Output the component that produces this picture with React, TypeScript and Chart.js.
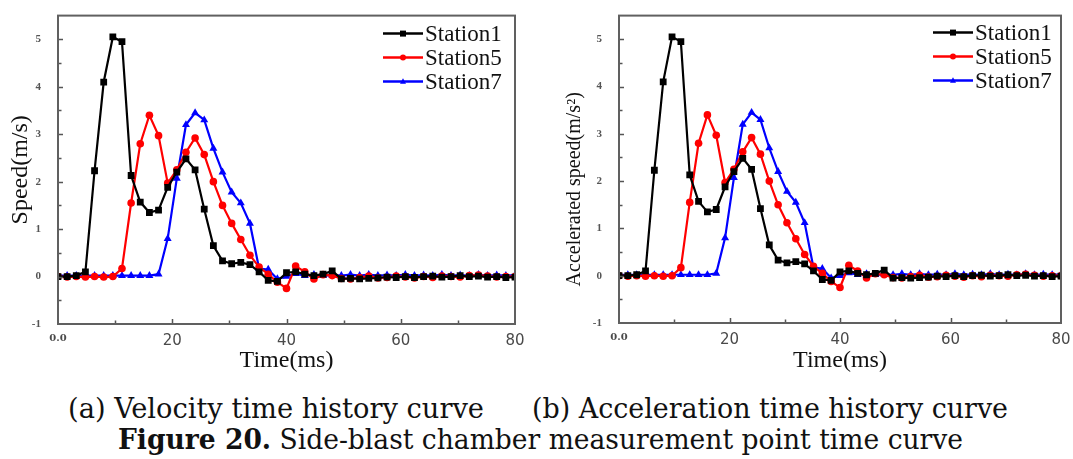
import React, { useEffect, useRef } from "react";
import { Chart, registerables } from "chart.js";

Chart.register(...registerables);

// ---------- data ----------
const TIME_MS = [
  0, 1.6, 3.2, 4.8, 6.4, 8, 9.6, 11.2, 12.8, 14.4, 16, 17.6, 19.2, 20.8, 22.4, 24, 25.6, 27.2, 28.8, 30.4,
  32, 33.6, 35.2, 36.8, 38.4, 40, 41.6, 43.2, 44.8, 46.4, 48, 49.6, 51.2, 52.8, 54.4, 56, 57.6, 59.2, 60.8,
  62.4, 64, 65.6, 67.2, 68.8, 70.4, 72, 73.6, 75.2, 76.8, 78.4, 80,
];

const STATION1 = [
  0.0, 0.0, 0.02, 0.1, 2.23, 4.1, 5.05, 4.95, 2.13, 1.57, 1.35, 1.4, 1.88, 2.2, 2.48, 2.25, 1.42, 0.65, 0.33, 0.27,
  0.3, 0.25, 0.1, -0.08, -0.1, 0.08, 0.1, 0.05, 0.02, 0.05, 0.12, -0.05, -0.04, -0.05, -0.04, -0.03, -0.01, -0.02,
  0.0, -0.02, 0.0, 0.01, -0.01, 0.0, 0.02, 0.0, 0.01, -0.01, 0.0, -0.02, -0.01,
];

const STATION5 = [
  0.0, -0.01, 0.0, -0.01, 0.0, -0.01, 0.0, 0.17, 1.55, 2.8, 3.4, 2.97, 1.97, 2.25, 2.62, 2.92, 2.57, 2.0, 1.5, 1.12,
  0.78, 0.45, 0.2, 0.05, -0.12, -0.25, 0.22, 0.1, -0.05, 0.04, 0.02, -0.04, -0.05, -0.02, 0.01, -0.03, -0.02, 0.01,
  -0.01, -0.03, 0.0, -0.02, 0.01, 0.0, -0.01, 0.02, 0.03, 0.01, -0.01, 0.0, 0.0,
];

const STATION7 = [
  0.02, 0.02, 0.02, 0.02, 0.02, 0.02, 0.02, 0.02, 0.02, 0.02, 0.02, 0.05, 0.8, 2.07, 3.2, 3.45, 3.3, 2.7, 2.2, 1.78,
  1.55, 1.12, 0.17, 0.15, -0.05, 0.0, 0.06, 0.02, 0.04, 0.02, 0.03, 0.02, 0.04, 0.02, 0.04, 0.02, 0.03, 0.02, 0.04,
  0.02, 0.03, 0.02, 0.04, 0.02, 0.03, 0.02, 0.04, 0.02, 0.03, 0.02, 0.03,
];

const SERIES_NAMES = ["Station1", "Station5", "Station7"];
const SERIES_COLORS = ["#000000", "#ff0000", "#0000ff"];
const SERIES_MARKERS = ["rect", "circle", "triangle"];
const SERIES_RADII = [4.8, 3.8, 4.6];

const X_MIN = 0;
const X_MAX = 80;
const Y_MIN = -1;
const Y_MAX = 5.5;

const SERIF = "'Liberation Serif', 'Times New Roman', Times, serif";

// ---------- plugins ----------
function drawMarker(ctx: CanvasRenderingContext2D, kind: string, x: number, y: number, r: number) {
  ctx.beginPath();
  if (kind === "rect") {
    ctx.rect(x - r, y - r, 2 * r, 2 * r);
  } else if (kind === "circle") {
    ctx.arc(x, y, r, 0, Math.PI * 2);
  } else {
    ctx.moveTo(x, y - r * 1.1);
    ctx.lineTo(x + r, y + r * 0.7);
    ctx.lineTo(x - r, y + r * 0.7);
    ctx.closePath();
  }
  ctx.fill();
}

const framePlugin = {
  id: "frameAndLegend",
  afterDatasetsDraw(chart: any, _args: any, opts: any) {
    const { ctx, chartArea: a, scales } = chart;
    ctx.save();
    // ticks (inward)
    ctx.strokeStyle = "#555";
    ctx.lineWidth = 1.5;
    ctx.beginPath();
    scales.y.ticks.forEach((t: any) => {
      if (t.value <= Y_MIN || t.value >= Y_MAX) return;
      const y = Math.round(scales.y.getPixelForValue(t.value)) + 0.5;
      const len = Number.isInteger(t.value) ? 5 : 3.5;
      ctx.moveTo(a.left, y);
      ctx.lineTo(a.left + len, y);
    });
    scales.x.ticks.forEach((t: any) => {
      if (t.value <= X_MIN || t.value >= X_MAX) return;
      const x = Math.round(scales.x.getPixelForValue(t.value)) + 0.5;
      const len = t.value % 20 === 0 ? 5 : 3.5;
      ctx.moveTo(x, a.bottom);
      ctx.lineTo(x, a.bottom - len);
    });
    ctx.stroke();
    // frame
    ctx.strokeStyle = "#606060";
    ctx.lineWidth = 2;
    ctx.strokeRect(a.left, a.top, a.right - a.left, a.bottom - a.top);

    // legend inside plot, top-right
    const textX = a.right - opts.textFromRight;
    ctx.font = "23px " + SERIF;
    ctx.textBaseline = "middle";
    ctx.textAlign = "left";
    chart.data.datasets.forEach((ds: any, i: number) => {
      const y = a.top + opts.firstRow + i * 24;
      ctx.strokeStyle = ds.borderColor;
      ctx.fillStyle = ds.borderColor;
      ctx.lineWidth = 2.5;
      ctx.beginPath();
      ctx.moveTo(textX - 42, y);
      ctx.lineTo(textX - 2, y);
      ctx.stroke();
      drawMarker(ctx, SERIES_MARKERS[i], textX - 22, y, 3);
      ctx.fillStyle = "#111";
      ctx.fillText(ds.label, textX, y + 1);
    });
    ctx.restore();
  },
};

// ---------- chart component ----------
type PanelProps = {
  left: number;
  width: number;
  height: number;
  yTitle: string;
  yTitleSize: number;
  padding: { left: number; top: number; right: number; bottom: number };
  yWidth: number;
  xHeight: number;
  textFromRight: number;
  firstRow: number;
};

function Panel(p: PanelProps) {
  const ref = useRef<HTMLCanvasElement | null>(null);
  useEffect(() => {
    if (!ref.current) return;
    const series = [STATION1, STATION5, STATION7];
    const chart = new Chart(ref.current, {
      type: "line",
      data: {
        datasets: series.map((vals, i) => ({
          label: SERIES_NAMES[i],
          data: TIME_MS.map((t, k) => ({ x: t, y: vals[k] })),
          borderColor: SERIES_COLORS[i],
          backgroundColor: SERIES_COLORS[i],
          borderWidth: 2.2,
          pointStyle: SERIES_MARKERS[i] as any,
          pointRadius: SERIES_RADII[i],
          pointBorderWidth: 0,
          tension: 0,
        })),
      },
      options: {
        responsive: false,
        animation: false,
        devicePixelRatio: 1,
        layout: { padding: p.padding },
        plugins: {
          legend: { display: false },
          tooltip: { enabled: false },
          frameAndLegend: { textFromRight: p.textFromRight, firstRow: p.firstRow },
        } as any,
        scales: {
          x: {
            type: "linear",
            min: X_MIN,
            max: X_MAX,
            grid: { display: false },
            border: { display: false },
            afterFit: (s: any) => {
              s.height = p.xHeight;
            },
            ticks: {
              stepSize: 10,
              autoSkip: false,
              maxRotation: 0,
              padding: 0,
              color: "#4a4a4a",
              font: (c: any) =>
                c.tick && c.tick.value === 0
                  ? { family: "'DejaVu Serif', serif", size: 10, weight: "bold" }
                  : { family: "'DejaVu Sans', sans-serif", size: 15 },
              callback: (v: any) => (v === 0 ? "0.0" : v % 20 === 0 ? String(v) : ""),
            },
            title: {
              display: true,
              text: "Time(ms)",
              color: "#111",
              font: { family: SERIF, size: 24 },
              padding: { top: 0, bottom: 5 },
            },
          },
          y: {
            type: "linear",
            min: Y_MIN,
            max: Y_MAX,
            grid: { display: false },
            border: { display: false },
            afterFit: (s: any) => {
              s.width = p.yWidth;
            },
            ticks: {
              stepSize: 0.5,
              autoSkip: false,
              padding: 9,
              color: "#555",
              font: { family: SERIF, size: 11, weight: "bold" },
              callback: (v: any) => (Number.isInteger(v) && v <= 5 ? String(v) : ""),
            },
            title: {
              display: true,
              text: p.yTitle,
              color: "#111",
              font: { family: SERIF, size: p.yTitleSize },
              padding: { top: 0, bottom: 0 },
            },
          },
        },
      },
      plugins: [framePlugin],
    });
    return () => chart.destroy();
  }, []);
  return (
    <canvas
      ref={ref}
      width={p.width}
      height={p.height}
      style={{ position: "absolute", left: p.left, top: 0, width: p.width, height: p.height }}
    />
  );
}

export default function App() {
  const capFont = "'DejaVu Serif Condensed', 'DejaVu Serif', serif";
  return (
    <div
      style={{
        position: "absolute",
        left: 0,
        top: 0,
        width: 1073,
        height: 459,
        background: "#fff",
        overflow: "hidden",
      }}
    >
      <Panel
        left={0}
        width={540}
        height={380}
        yTitle="Speed(m/s)"
        yTitleSize={24}
        padding={{ left: 6, top: 14, right: 25, bottom: 0 }}
        yWidth={52}
        xHeight={56}
        textFromRight={90}
        firstRow={18}
      />
      <Panel
        left={540}
        width={533}
        height={380}
        yTitle={"Accelerated speed(m/s\u00B2)        "}
        yTitleSize={20}
        padding={{ left: 23, top: 12, right: 12, bottom: 0 }}
        yWidth={56}
        xHeight={57}
        textFromRight={86}
        firstRow={17}
      />
      <svg
        width={1073}
        height={79}
        style={{ position: "absolute", left: 0, top: 380 }}
      >
        <text x={68} y={38} fontSize={27} fontFamily={capFont} fill="#111" textLength={416} lengthAdjust="spacingAndGlyphs">
          (a) Velocity time history curve
        </text>
        <text x={532} y={38} fontSize={27} fontFamily={capFont} fill="#111" textLength={476} lengthAdjust="spacingAndGlyphs">
          (b) Acceleration time history curve
        </text>
        <text x={118} y={69} fontSize={27} fontFamily={capFont} fill="#111" textLength={845} lengthAdjust="spacingAndGlyphs">
          <tspan fontWeight="bold">Figure 20.</tspan> Side-blast chamber measurement point time curve
        </text>
      </svg>
    </div>
  );
}
